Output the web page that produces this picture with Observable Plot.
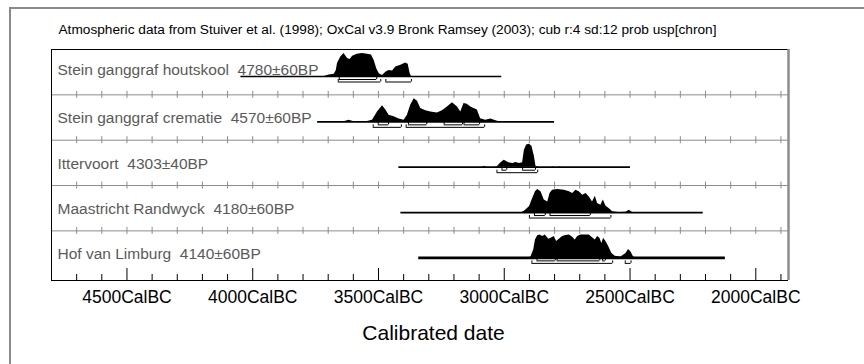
<!DOCTYPE html>
<html><head><meta charset="utf-8">
<script src="https://cdn.jsdelivr.net/npm/d3@7"></script>
<script src="https://cdn.jsdelivr.net/npm/@observablehq/plot@0.6"></script>
<style>
html,body{margin:0;padding:0;background:#fff;overflow:hidden;}
#wrap{position:relative;width:864px;height:364px;overflow:hidden;font-family:"Liberation Sans",Arial,sans-serif;}
#frame{position:absolute;left:9px;top:6.5px;width:900px;height:420px;border:2px solid #8a8a8a;box-sizing:border-box;pointer-events:none;}
</style></head><body>
<div id="wrap"><div id="chart"></div><div id="frame"></div></div>
<script>
const title = "Atmospheric data from Stuiver et al. (1998); OxCal v3.9 Bronk Ramsey (2003); cub r:4 sd:12 prob usp[chron]";
const names = ["Stein ganggraf houtskool", "Stein ganggraf crematie", "Ittervoort", "Maastricht Randwyck", "Hof van Limburg"];
const dates = ["4780±60BP", "4570±60BP", "4303±40BP", "4180±60BP", "4140±60BP"];
// extent of each row's baseline (cal BC)
const lineStart = [4047, 3742, 3419, 3411, 3340];
const lineEnd = [3010, 2800, 2498, 2209, 2121];
// probability distributions: [cal BC, relative probability]
const dist1 = [[3715,0],[3709,0.02],[3696,0.06],[3676,0.1],[3668,0.25],[3663,0.56],[3650,0.85],[3637,1.0],[3623,0.78],[3613,0.74],[3603,0.88],[3584,0.97],[3564,1.0],[3544,0.97],[3528,0.93],[3517,0.7],[3507,0.34],[3497,0.12],[3484,0.04],[3471,0.19],[3458,0.26],[3444,0.24],[3431,0.41],[3411,0.49],[3392,0.59],[3382,0.53],[3374,0.12],[3369,0]];
const dist2 = [[3640,0],[3630,0.03],[3617,0.07],[3600,0.01],[3544,0.01],[3524,0.07],[3504,0.43],[3484,0.70],[3471,0.51],[3458,0.29],[3438,0.22],[3418,0.12],[3398,0.07],[3385,0.29],[3372,0.72],[3358,1.0],[3345,0.90],[3332,0.58],[3312,0.48],[3292,0.43],[3266,0.39],[3246,0.48],[3226,0.65],[3206,0.83],[3186,0.65],[3173,0.43],[3160,0.80],[3147,0.77],[3133,0.65],[3120,0.58],[3107,0.51],[3094,0.14],[3074,0.07],[3054,0.12],[3027,0.03],[3014,0]];
const dist3 = [[3090,0],[3079,0.04],[3068,0],[3035,0],[3026,0.04],[3013,0.19],[3000,0.30],[2982,0.19],[2966,0.16],[2953,0.2],[2940,0.16],[2927,0.19],[2920,0.74],[2911,0.96],[2900,1.0],[2890,0.91],[2880,0.45],[2874,0.04],[2861,0],[2810,0],[2804,0.02],[2798,0],[2785,0],[2779,0.015],[2772,0]];
const dist4 = [[2930,0],[2920,0.06],[2900,0.25],[2887,0.61],[2876,0.90],[2867,1.0],[2854,0.90],[2841,0.54],[2827,0.46],[2818,0.83],[2808,0.97],[2788,1.0],[2761,0.97],[2741,0.90],[2728,0.83],[2715,0.97],[2702,0.90],[2688,0.75],[2675,0.83],[2662,0.68],[2649,0.46],[2638,0.71],[2629,0.39],[2616,0.32],[2606,0.54],[2596,0.28],[2582,0.17],[2569,0.03],[2543,0],[2516,0.01],[2503,0.10],[2490,0]];
const dist5 = [[2905,0],[2894,0.04],[2883,0.34],[2876,0.78],[2867,0.96],[2858,1.0],[2847,0.93],[2837,1.0],[2823,0.81],[2814,0.85],[2801,0.93],[2792,0.71],[2781,0.81],[2768,0.93],[2755,0.97],[2741,0.99],[2728,0.90],[2718,0.78],[2708,0.93],[2695,0.99],[2675,1.0],[2662,0.99],[2649,0.88],[2638,0.78],[2629,0.93],[2620,0.85],[2612,0.63],[2605,0.85],[2596,0.71],[2585,0.49],[2572,0.19],[2559,0.07],[2536,0.04],[2516,0.19],[2506,0.37],[2496,0.26],[2486,0.04],[2470,0]];
const dists = [dist1, dist2, dist3, dist4, dist5];
// 68.2% and 95.4% ranges (cal BC from, to)
const range68 = [[[3656,3507]], [[3501,3460],[3381,3308],[3239,3166],[3160,3098]], [[3009,2990],[2927,2876]], [[2880,2837],[2818,2658]], [[2870,2797],[2790,2620],[2609,2598]]];
const range95 = [[[3660,3491],[3471,3369]], [[3521,3409],[3390,3078]], [[3029,2867]], [[2900,2576]], [[2890,2569],[2519,2496]]];
const majorTicks = [4500, 4000, 3500, 3000, 2500, 2000];
const tickLabels = ["4500CalBC", "4000CalBC", "3500CalBC", "3000CalBC", "2500CalBC", "2000CalBC"];
const minorTicks = d3.range(4700, 1899, -100);
const axisTitle = "Calibrated date";

// layout constants (row units; 1 row = 45.35px)
const W = 864, H = 364, mT = 49, mB = 84, mL = 51, mR = 76;
const yMax = 5.094;
const k = yMax / (H - mT - mB); // row units per pixel
const baseOff = 27 * k, peakH = 23 * k;
const base = i => i + baseOff;

const rows = names.map((n, i) => ({i, label: n + "\u00a0\u00a0" + dates[i], s: lineStart[i], e: lineEnd[i]}));
const areaData = dists.flatMap((d, i) => d.map(([bc, p]) => ({i, bc, p})));
const br = [];
range68.forEach((rs, i) => rs.forEach(([a, b]) => br.push({i, a, b, off: 3 * k})));
range95.forEach((rs, i) => rs.forEach(([a, b]) => br.push({i, a, b, off: 5.5 * k})));
const brEnds = br.flatMap(d => [{...d, x: d.a}, {...d, x: d.b}]);
const sepRows = [1, 2, 3, 4];
const sepTicks = sepRows.flatMap(r => minorTicks.map(t => ({r, t})));

const chart = Plot.plot({
  width: W, height: H,
  marginTop: mT, marginBottom: mB, marginLeft: mL, marginRight: mR,
  style: {background: "transparent", fontFamily: "Liberation Sans, Arial, sans-serif", overflow: "visible"},
  x: {domain: [-4800, -1870], axis: null},
  y: {domain: [0, yMax], reverse: true, axis: null},
  marks: [
    Plot.ruleY(sepRows, {stroke: "#8c8c8c", strokeWidth: 1}),
    Plot.ruleX(sepTicks, {x: d => -d.t, y1: d => d.r - 3.5 * k, y2: d => d.r + 3.5 * k, stroke: "#8c8c8c", strokeWidth: 1}),
    Plot.ruleX(minorTicks, {x: d => -d, y1: yMax, y2: d => yMax - (d % 500 === 0 ? 12 : 6) * k, stroke: "#000", strokeWidth: 1}),
    Plot.ruleY([0], {stroke: "#000", strokeWidth: 1}),
    Plot.ruleY([yMax], {stroke: "#000", strokeWidth: 1}),
    Plot.ruleX([-4800], {stroke: "#000", strokeWidth: 1}),
    Plot.ruleX([-1870], {stroke: "#8c8c8c", strokeWidth: 2.5}),
    Plot.text(rows, {x: -4800, y: d => base(d.i) + (d.i === 0 ? -2 : 1.5) * k, dx: 6, text: "label", textAnchor: "start", lineAnchor: "bottom", fill: "#5a5a5a", fontSize: 15.5}),
    Plot.ruleY(rows, {x1: d => -d.s, x2: d => -d.e, y: d => base(d.i), stroke: "#000", strokeWidth: d => d.i === 4 ? 2.6 : 1.7}),
    Plot.areaY(areaData, {x: d => -d.bc, y1: d => base(d.i), y2: d => base(d.i) - d.p * peakH, z: "i", fill: "#000", curve: "linear"}),
    Plot.ruleY(br, {x1: d => -d.a, x2: d => -d.b, y: d => base(d.i) + d.off, stroke: "#000", strokeWidth: 1}),
    Plot.ruleX(brEnds, {x: d => -d.x, y1: d => base(d.i) + d.off, y2: d => base(d.i) + d.off - 2.5 * k, stroke: "#000", strokeWidth: 1}),
    Plot.text(majorTicks, {x: d => -d, y: yMax, dy: 22.7, text: (d, j) => tickLabels[j], lineAnchor: "bottom", fontSize: 17.5, fill: "#000"}),
    Plot.text([axisTitle], {frameAnchor: "bottom", dx: 13.5, dy: 59, text: d => d, lineAnchor: "bottom", fontSize: 21, fill: "#000"}),
    Plot.text([title], {frameAnchor: "top-left", dx: 7, dy: -16, text: d => d, textAnchor: "start", lineAnchor: "bottom", fontSize: 12.3, fill: "#000"})
  ]
});
// stretch the title to the reference's width
chart.querySelectorAll("text").forEach(t => {
  if (t.textContent === title) { t.setAttribute("textLength", 658); t.setAttribute("lengthAdjust", "spacingAndGlyphs"); }
});
document.getElementById("chart").appendChild(chart);
</script>
</body></html>
